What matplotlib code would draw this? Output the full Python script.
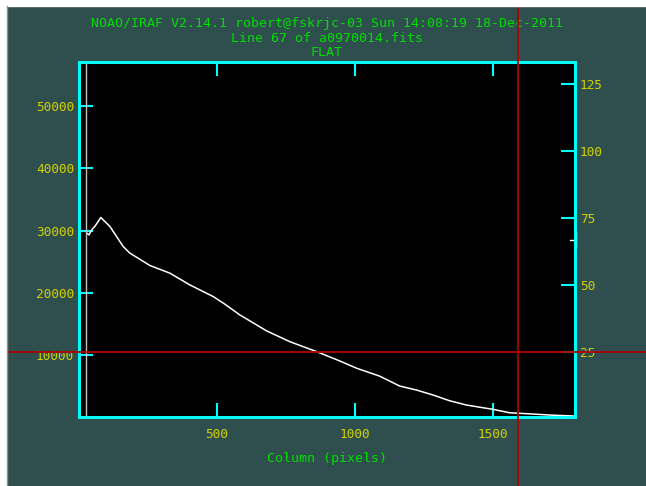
import matplotlib
matplotlib.use("Agg")
import matplotlib.pyplot as plt
from matplotlib.lines import Line2D
from matplotlib.patches import Rectangle

# IRAF implot of one detector line
columns = [30, 38, 48, 60, 81, 114, 162, 186, 259, 331, 403, 488, 530, 584,
           681, 765, 862, 946, 1007, 1091, 1163, 1224, 1284, 1344, 1405,
           1501, 1561, 1646, 1706, 1797]
counts = [29580, 29300, 30100, 30700, 32090, 30640, 27430, 26370, 24370,
          23150, 21270, 19390, 18170, 16450, 13880, 12150, 10550, 9050, 7880,
          6600, 5016, 4373, 3569, 2653, 1961, 1270, 723, 514, 354, 193]
xticks = [500, 1000, 1500]
yticks_left = [10000, 20000, 30000, 40000, 50000]
yticks_right = [25, 50, 75, 100, 125]
title_lines = ["NOAO/IRAF V2.14.1 robert@fskrjc-03 Sun 14:08:19 18-Dec-2011",
               "Line 67 of a0970014.fits",
               "FLAT"]
marker_col = 27
cursor = (1590, 10530)

bg = "#2f4f4f"
cyan = "#00ffff"
yellow = "#d2d200"
green = "#00dd00"
red = "#b00000"
mono = "DejaVu Sans Mono"

fig = plt.figure(figsize=(6.46, 4.86), dpi=100, facecolor=bg)
ax = fig.add_axes([79/646, 1-417/486, (575-79)/646, (417-62)/486])
ax.set_facecolor("black")
ax.plot(columns, counts, color="white", lw=1.1)
ax.axvline(marker_col, color="#c0c0c0", lw=1)
ax.set_xlim(2, 1798)
ax.set_ylim(40, 57070)

for s in ax.spines.values():
    s.set_color(cyan)
    s.set_linewidth(2)
ax.set_xticks(xticks)
ax.set_yticks(yticks_left)
ax.tick_params(axis="x", direction="in", length=10, width=1.5, color=cyan,
               top=True, labelcolor=yellow, labelsize=9.2, pad=8)
ax.tick_params(axis="y", direction="in", length=10, width=1.5, color=cyan,
               right=False, labelcolor=yellow, labelsize=9.2, pad=3.6)
for lab in ax.get_xticklabels() + ax.get_yticklabels():
    lab.set_family(mono)
ax.set_xlabel("Column (pixels)", color=green, fontsize=9.5, family=mono,
              labelpad=8)

ax2 = ax.twinx()
ax2.set_ylim(0.9, 133.2)
ax2.set_yticks(yticks_right)
ax2.tick_params(axis="y", direction="in", length=10, width=1.5, color=cyan,
                labelcolor=yellow, labelsize=9.2, pad=3.6)
for lab in ax2.get_yticklabels():
    lab.set_family(mono)
for s in ax2.spines.values():
    s.set_color(cyan)
    s.set_linewidth(2)

# small cursor mark on the right edge
for xs, ys in [([0.99, 1.0], [0.498, 0.498]), ([1.002, 1.002], [0.479, 0.521])]:
    ax2.add_line(Line2D(xs, ys, transform=ax.transAxes, color="white",
                        lw=1, clip_on=False))

for i, t in enumerate(title_lines):
    fig.text(ax.get_position().x0 + ax.get_position().width / 2,
             1 - (23.6 + 14.5 * i) / 486, t, ha="center", va="center",
             color=green, fontsize=9.5, family=mono)

# red crosshair across the whole window
px, py = ax.transData.transform(cursor)
fx, fy = fig.transFigure.inverted().transform((px, py))
fig.add_artist(Line2D([0, 1], [fy, fy], transform=fig.transFigure,
                      color=red, lw=1.3, zorder=5))
fig.add_artist(Line2D([fx, fx], [0, 1], transform=fig.transFigure,
                      color=red, lw=1.3, zorder=5))

# white window border (top and left) with a grey edge
fig.add_artist(Rectangle((0, 1 - 6/486), 1, 6/486, transform=fig.transFigure,
                         color="white", zorder=10))
fig.add_artist(Rectangle((0, 0), 6/646, 1, transform=fig.transFigure,
                         color="white", zorder=10))
fig.add_artist(Line2D([6.5/646, 6.5/646], [0, 1 - 6/486],
                      transform=fig.transFigure, color="#909090", lw=1,
                      zorder=11))

fig.savefig("out.png", dpi=100, facecolor=bg)
